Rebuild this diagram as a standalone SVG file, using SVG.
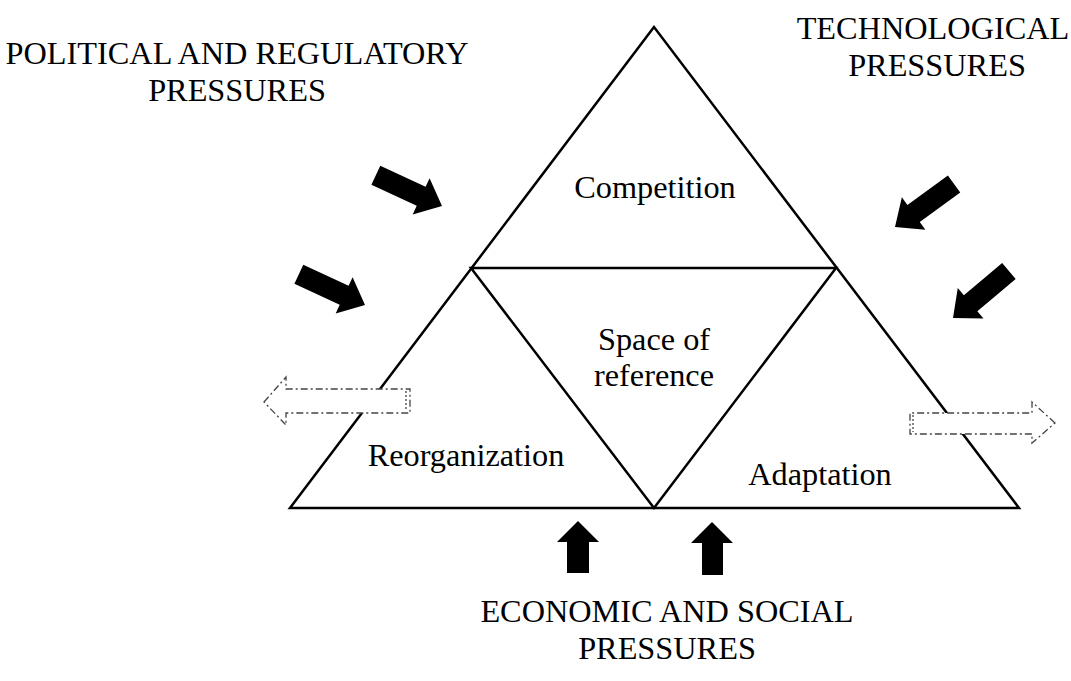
<svg xmlns="http://www.w3.org/2000/svg" width="1071" height="681" viewBox="0 0 1071 681">
<defs>
<style>
.t{font-family:"Liberation Serif","Times New Roman",serif;font-size:32.3px;fill:#000;text-anchor:middle}
.tri{fill:none;stroke:#000;stroke-width:2.5;stroke-linejoin:miter}
.ar{fill:#000;stroke:none}
.da{fill:#fff;stroke:#444;stroke-width:1.3;stroke-dasharray:7 3 2 3}
.de{fill:none;stroke:#444;stroke-width:1.3;stroke-dasharray:2 2}
</style>
<path id="bold" d="M0,0 L-23,-20 L-23,-10.5 L-73,-10.5 L-73,10.5 L-23,10.5 L-23,20 Z"/>
</defs>
<rect width="1071" height="681" fill="#fff"/>
<g id="outer-triangle">
<polygon class="tri" points="654,27 290,508 1019,508"/>
</g>
<g id="competition">
<text class="t" x="655" y="198">Competition</text>
</g>
<g id="space-of-reference">
<polygon class="tri" points="471,268 836,268 654,508"/>
<text class="t" x="654" y="350">Space of</text>
<text class="t" x="654" y="386">reference</text>
</g>
<g id="reorganization">
<text class="t" x="466" y="466">Reorganization</text>
</g>
<g id="adaptation">
<text class="t" x="820" y="485">Adaptation</text>
</g>
<g id="political">
<text class="t" x="237" y="64">POLITICAL AND REGULATORY</text>
<text class="t" x="237" y="101">PRESSURES</text>
</g>
<g id="technological">
<text class="t" x="933" y="39">TECHNOLOGICAL</text>
<text class="t" x="937" y="76">PRESSURES</text>
</g>
<g id="economic">
<text class="t" x="667" y="622">ECONOMIC AND SOCIAL</text>
<text class="t" x="667" y="659">PRESSURES</text>
</g>
<g id="connectors">
<use href="#bold" class="ar" transform="translate(442,206) rotate(25)"/>
<use href="#bold" class="ar" transform="translate(365,305) rotate(25)"/>
<use href="#bold" class="ar" transform="translate(895,227) rotate(144)"/>
<use href="#bold" class="ar" transform="translate(953,318) rotate(140)"/>
<polygon class="ar" points="578,521 599,542 589,542 589,573 567,573 567,542 557,542"/>
<polygon class="ar" points="712,522 733,543 723,543 723,575 702,575 702,543 691,543"/>
<polygon class="da" points="264,402 286,377 286,389 410,389 410,413 286,413 286,425"/>
<line class="de" x1="406" y1="391" x2="406" y2="411"/>
<polygon class="da" points="1055,423 1032,402 1032,413 910,413 910,434 1032,434 1032,443"/>
<line class="de" x1="913" y1="415" x2="913" y2="432"/>
</g>
</svg>
